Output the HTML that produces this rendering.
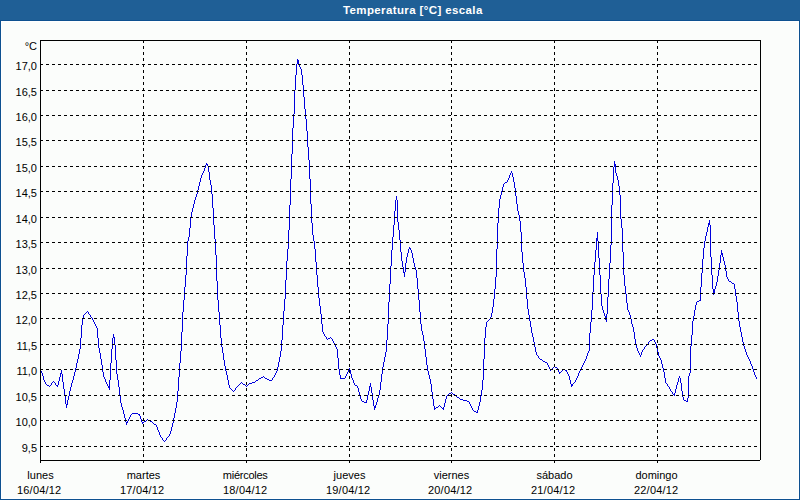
<!DOCTYPE html>
<html><head><meta charset="utf-8"><title>Temperatura [°C] escala</title>
<style>
html,body{margin:0;padding:0;}
body{width:800px;height:500px;position:relative;overflow:hidden;background:#fbfdfb;}
#tb{position:absolute;left:0;top:0;width:800px;height:20px;background:#1f5f96;border-bottom:1px solid #0d5190;}
#tb span{position:absolute;left:343px;top:0;font:bold 11.5px "Liberation Sans",sans-serif;letter-spacing:0.38px;color:#fff;line-height:20px;white-space:nowrap;}
#fr{position:absolute;left:0;top:21px;width:800px;height:479px;box-sizing:border-box;border:1px solid #0d5190;border-top:0;box-shadow:inset 0 0 0 1px #fff;}
</style></head><body>
<div id="tb"><span>Temperatura [°C] escala</span></div>
<div id="fr"></div>
<svg width="800" height="500" viewBox="0 0 800 500" style="position:absolute;left:0;top:0">
<path d="M41 371h1v2h-1zM42 373h1v3h-1zM43 376h1v4h-1zM44 380h1v2h-1zM45 382h1v2h-1zM51 383h1v2h-1zM55 383h1v2h-1zM57 385h1v2h-1zM58 381h1v4h-1zM59 377h1v4h-1zM60 373h1v4h-1zM61 370h1v4h-1zM62 374h1v8h-1zM63 382h1v7h-1zM64 389h1v7h-1zM65 396h1v8h-1zM66 404h1v4h-1zM67 400h1v5h-1zM68 396h1v4h-1zM69 391h1v5h-1zM70 387h1v4h-1zM71 383h1v4h-1zM72 380h1v3h-1zM73 376h1v4h-1zM74 372h1v4h-1zM75 368h1v4h-1zM76 363h1v5h-1zM77 359h1v4h-1zM78 354h1v5h-1zM79 349h1v5h-1zM80 338h1v11h-1zM81 325h1v13h-1zM82 318h1v7h-1zM83 315h1v3h-1zM88 312h1v2h-1zM90 315h1v2h-1zM92 318h1v2h-1zM93 320h1v2h-1zM94 322h1v2h-1zM95 324h1v2h-1zM96 326h1v2h-1zM97 328h1v10h-1zM98 338h1v10h-1zM99 348h1v5h-1zM100 353h1v6h-1zM101 359h1v6h-1zM102 365h1v7h-1zM103 372h1v5h-1zM104 377h1v2h-1zM105 379h1v3h-1zM106 382h1v2h-1zM107 384h1v2h-1zM108 386h1v2h-1zM109 380h1v10h-1zM110 363h1v17h-1zM111 349h1v14h-1zM112 338h1v11h-1zM113 334h1v4h-1zM114 337h1v8h-1zM115 345h1v15h-1zM116 360h1v14h-1zM117 374h1v6h-1zM118 380h1v7h-1zM119 387h1v9h-1zM120 396h1v7h-1zM121 403h1v4h-1zM122 407h1v3h-1zM123 410h1v4h-1zM124 414h1v4h-1zM125 418h1v4h-1zM126 422h1v3h-1zM127 421h1v2h-1zM128 419h1v2h-1zM129 417h1v2h-1zM130 415h1v2h-1zM139 414h1v2h-1zM140 416h1v3h-1zM141 419h1v3h-1zM142 422h1v2h-1zM156 425h1v2h-1zM157 427h1v3h-1zM158 430h1v2h-1zM159 432h1v3h-1zM160 435h1v2h-1zM162 438h1v2h-1zM166 438h1v2h-1zM169 434h1v2h-1zM170 431h1v3h-1zM171 427h1v4h-1zM172 423h1v4h-1zM173 418h1v5h-1zM174 413h1v5h-1zM175 408h1v5h-1zM176 402h1v6h-1zM177 391h1v11h-1zM178 377h1v14h-1zM179 363h1v14h-1zM180 351h1v12h-1zM181 332h1v19h-1zM182 312h1v20h-1zM183 300h1v12h-1zM184 287h1v13h-1zM185 275h1v12h-1zM186 256h1v19h-1zM187 241h1v15h-1zM188 237h1v4h-1zM189 228h1v9h-1zM190 218h1v10h-1zM191 212h1v6h-1zM192 208h1v4h-1zM193 204h1v4h-1zM194 200h1v4h-1zM195 197h1v3h-1zM196 194h1v3h-1zM197 190h1v4h-1zM198 186h1v4h-1zM199 182h1v4h-1zM200 178h1v4h-1zM201 175h1v3h-1zM202 173h1v2h-1zM203 171h1v2h-1zM204 168h1v3h-1zM205 165h1v3h-1zM206 163h1v2h-1zM207 164h1v2h-1zM208 166h1v6h-1zM209 172h1v8h-1zM210 180h1v5h-1zM211 185h1v9h-1zM212 194h1v14h-1zM213 208h1v17h-1zM214 225h1v14h-1zM215 239h1v16h-1zM216 255h1v26h-1zM217 281h1v19h-1zM218 300h1v12h-1zM219 312h1v13h-1zM220 325h1v13h-1zM221 338h1v9h-1zM222 347h1v6h-1zM223 353h1v7h-1zM224 360h1v6h-1zM225 366h1v5h-1zM226 371h1v4h-1zM227 375h1v5h-1zM228 380h1v5h-1zM229 385h1v3h-1zM235 388h1v2h-1zM272 378h1v2h-1zM274 375h1v2h-1zM275 373h1v2h-1zM276 371h1v2h-1zM277 367h1v4h-1zM278 362h1v5h-1zM279 357h1v5h-1zM280 351h1v6h-1zM281 340h1v11h-1zM282 325h1v15h-1zM283 311h1v14h-1zM284 299h1v12h-1zM285 280h1v19h-1zM286 261h1v19h-1zM287 249h1v12h-1zM288 230h1v19h-1zM289 205h1v25h-1zM290 179h1v26h-1zM291 154h1v25h-1zM292 128h1v26h-1zM293 114h1v14h-1zM294 90h1v24h-1zM295 75h1v15h-1zM296 64h1v11h-1zM297 59h1v5h-1zM298 60h1v5h-1zM299 65h1v2h-1zM300 67h1v2h-1zM301 69h1v6h-1zM302 75h1v10h-1zM303 85h1v12h-1zM304 97h1v12h-1zM305 109h1v10h-1zM306 119h1v12h-1zM307 131h1v16h-1zM308 147h1v13h-1zM309 160h1v19h-1zM310 179h1v25h-1zM311 204h1v19h-1zM312 223h1v12h-1zM313 235h1v6h-1zM314 241h1v8h-1zM315 249h1v13h-1zM316 262h1v13h-1zM317 275h1v12h-1zM318 287h1v11h-1zM319 298h1v8h-1zM320 306h1v8h-1zM321 314h1v10h-1zM322 324h1v8h-1zM323 332h1v2h-1zM324 334h1v2h-1zM326 337h1v2h-1zM332 339h1v2h-1zM333 341h1v2h-1zM334 343h1v2h-1zM335 345h1v2h-1zM336 347h1v2h-1zM337 349h1v9h-1zM338 358h1v11h-1zM339 369h1v6h-1zM340 375h1v4h-1zM345 376h1v2h-1zM346 374h1v2h-1zM347 372h1v2h-1zM348 370h1v2h-1zM349 368h1v2h-1zM350 370h1v4h-1zM351 374h1v4h-1zM352 378h1v2h-1zM353 380h1v3h-1zM354 383h1v2h-1zM357 386h1v2h-1zM358 388h1v4h-1zM359 392h1v4h-1zM360 396h1v3h-1zM361 399h1v2h-1zM366 400h1v3h-1zM367 395h1v5h-1zM368 391h1v4h-1zM369 386h1v5h-1zM370 383h1v4h-1zM371 387h1v6h-1zM372 393h1v7h-1zM373 400h1v6h-1zM374 406h1v4h-1zM375 405h1v3h-1zM376 402h1v3h-1zM377 398h1v4h-1zM378 395h1v3h-1zM379 390h1v5h-1zM380 382h1v8h-1zM381 374h1v8h-1zM382 367h1v7h-1zM383 362h1v5h-1zM384 357h1v5h-1zM385 352h1v5h-1zM386 340h1v12h-1zM387 324h1v16h-1zM388 302h1v22h-1zM389 284h1v18h-1zM390 266h1v18h-1zM391 250h1v16h-1zM392 237h1v13h-1zM393 225h1v12h-1zM394 211h1v14h-1zM395 200h1v11h-1zM396 196h1v4h-1zM397 200h1v22h-1zM398 222h1v8h-1zM399 230h1v10h-1zM400 240h1v12h-1zM401 252h1v9h-1zM402 261h1v6h-1zM403 267h1v6h-1zM404 272h1v5h-1zM405 263h1v9h-1zM406 257h1v6h-1zM407 253h1v4h-1zM408 249h1v4h-1zM409 247h1v2h-1zM410 248h1v2h-1zM411 250h1v3h-1zM412 253h1v5h-1zM413 258h1v5h-1zM414 263h1v4h-1zM415 267h1v3h-1zM416 270h1v8h-1zM417 278h1v11h-1zM418 289h1v11h-1zM419 300h1v12h-1zM420 312h1v12h-1zM421 324h1v7h-1zM422 331h1v4h-1zM423 335h1v6h-1zM424 341h1v8h-1zM425 349h1v8h-1zM426 357h1v8h-1zM427 365h1v6h-1zM428 371h1v4h-1zM429 375h1v4h-1zM430 379h1v5h-1zM431 384h1v8h-1zM432 392h1v7h-1zM433 399h1v7h-1zM434 406h1v4h-1zM443 407h1v3h-1zM444 403h1v4h-1zM445 399h1v4h-1zM446 396h1v3h-1zM469 402h1v2h-1zM470 404h1v2h-1zM471 406h1v2h-1zM472 408h1v2h-1zM477 410h1v3h-1zM478 406h1v4h-1zM479 402h1v4h-1zM480 396h1v6h-1zM481 390h1v6h-1zM482 380h1v10h-1zM483 359h1v21h-1zM484 338h1v21h-1zM485 327h1v11h-1zM486 322h1v5h-1zM490 317h1v2h-1zM491 313h1v4h-1zM492 307h1v6h-1zM493 299h1v8h-1zM494 289h1v10h-1zM495 277h1v12h-1zM496 249h1v28h-1zM497 223h1v26h-1zM498 208h1v15h-1zM499 199h1v9h-1zM500 195h1v4h-1zM501 191h1v4h-1zM502 187h1v4h-1zM503 184h1v3h-1zM507 180h1v2h-1zM508 178h1v2h-1zM509 175h1v3h-1zM510 173h1v2h-1zM511 171h1v2h-1zM512 173h1v4h-1zM513 177h1v5h-1zM514 182h1v6h-1zM515 188h1v8h-1zM516 196h1v8h-1zM517 204h1v7h-1zM518 211h1v4h-1zM519 215h1v6h-1zM520 221h1v11h-1zM521 232h1v20h-1zM522 252h1v11h-1zM523 263h1v9h-1zM524 272h1v6h-1zM525 278h1v9h-1zM526 287h1v12h-1zM527 299h1v10h-1zM528 309h1v6h-1zM529 315h1v6h-1zM530 321h1v6h-1zM531 327h1v6h-1zM532 333h1v4h-1zM533 337h1v5h-1zM534 342h1v5h-1zM535 347h1v5h-1zM536 352h1v3h-1zM538 356h1v2h-1zM547 363h1v2h-1zM548 365h1v2h-1zM549 367h1v2h-1zM550 369h1v2h-1zM557 368h1v2h-1zM558 370h1v2h-1zM559 372h1v2h-1zM566 370h1v2h-1zM567 372h1v2h-1zM568 374h1v2h-1zM569 376h1v4h-1zM570 380h1v4h-1zM571 384h1v3h-1zM572 384h1v2h-1zM575 380h1v2h-1zM576 378h1v2h-1zM577 376h1v2h-1zM578 373h1v3h-1zM579 371h1v2h-1zM580 369h1v2h-1zM581 367h1v2h-1zM582 365h1v2h-1zM583 363h1v2h-1zM584 361h1v2h-1zM585 359h1v2h-1zM586 356h1v3h-1zM587 353h1v3h-1zM588 351h1v2h-1zM589 333h1v18h-1zM590 322h1v11h-1zM591 310h1v12h-1zM592 292h1v18h-1zM593 275h1v17h-1zM594 262h1v13h-1zM595 250h1v12h-1zM596 238h1v12h-1zM597 232h1v9h-1zM598 241h1v17h-1zM599 258h1v17h-1zM600 275h1v19h-1zM601 294h1v12h-1zM602 306h1v4h-1zM603 310h1v3h-1zM604 313h1v3h-1zM605 316h1v4h-1zM606 314h1v8h-1zM607 297h1v17h-1zM608 279h1v18h-1zM609 263h1v16h-1zM610 245h1v18h-1zM611 205h1v40h-1zM612 183h1v22h-1zM613 167h1v16h-1zM614 161h1v6h-1zM615 164h1v9h-1zM616 173h1v3h-1zM617 176h1v4h-1zM618 180h1v6h-1zM619 186h1v9h-1zM620 195h1v24h-1zM621 219h1v9h-1zM622 228h1v24h-1zM623 252h1v23h-1zM624 275h1v11h-1zM625 286h1v8h-1zM626 294h1v9h-1zM627 303h1v7h-1zM628 310h1v2h-1zM629 312h1v3h-1zM630 315h1v4h-1zM631 319h1v5h-1zM632 324h1v3h-1zM633 327h1v5h-1zM634 332h1v7h-1zM635 339h1v5h-1zM636 344h1v4h-1zM637 348h1v3h-1zM638 351h1v2h-1zM639 353h1v2h-1zM640 355h1v2h-1zM641 352h1v3h-1zM642 350h1v2h-1zM644 347h1v2h-1zM648 342h1v2h-1zM654 340h1v2h-1zM655 342h1v2h-1zM656 344h1v4h-1zM657 348h1v4h-1zM658 352h1v4h-1zM659 356h1v2h-1zM660 358h1v2h-1zM661 360h1v4h-1zM662 364h1v4h-1zM663 368h1v4h-1zM664 372h1v6h-1zM665 378h1v5h-1zM667 384h1v2h-1zM669 387h1v2h-1zM670 389h1v2h-1zM672 392h1v2h-1zM674 393h1v3h-1zM675 389h1v4h-1zM676 385h1v4h-1zM677 382h1v3h-1zM678 378h1v4h-1zM679 376h1v2h-1zM680 378h1v5h-1zM681 383h1v8h-1zM682 391h1v6h-1zM683 397h1v3h-1zM687 398h1v4h-1zM688 376h1v22h-1zM689 373h1v3h-1zM690 346h1v27h-1zM691 335h1v11h-1zM692 321h1v14h-1zM693 316h1v5h-1zM694 310h1v6h-1zM695 305h1v5h-1zM696 302h1v3h-1zM700 287h1v14h-1zM701 273h1v14h-1zM702 259h1v14h-1zM703 248h1v11h-1zM704 241h1v7h-1zM705 236h1v5h-1zM706 232h1v4h-1zM707 227h1v5h-1zM708 223h1v4h-1zM709 220h1v5h-1zM710 225h1v32h-1zM711 257h1v18h-1zM712 275h1v14h-1zM713 289h1v6h-1zM714 289h1v4h-1zM715 286h1v3h-1zM716 282h1v4h-1zM717 276h1v6h-1zM718 270h1v6h-1zM719 263h1v7h-1zM720 255h1v8h-1zM721 250h1v5h-1zM722 253h1v4h-1zM723 257h1v4h-1zM724 261h1v4h-1zM725 265h1v6h-1zM726 271h1v6h-1zM727 277h1v2h-1zM728 279h1v2h-1zM734 284h1v5h-1zM735 289h1v7h-1zM736 296h1v6h-1zM737 302h1v10h-1zM738 312h1v9h-1zM739 321h1v6h-1zM740 327h1v5h-1zM741 332h1v5h-1zM742 337h1v5h-1zM743 342h1v4h-1zM744 346h1v3h-1zM745 349h1v3h-1zM746 352h1v3h-1zM747 355h1v2h-1zM748 357h1v2h-1zM749 359h1v2h-1zM750 361h1v3h-1zM751 364h1v2h-1zM752 366h1v3h-1zM753 369h1v3h-1zM754 372h1v3h-1zM755 375h1v2h-1zM756 377h1v2h-1zM46 384h1v1h-1zM239 384h1v1h-1zM243 384h2v1h-2zM248 384h1v1h-1zM47 385h2v1h-2zM50 385h1v1h-1zM56 385h1v1h-1zM238 385h1v1h-1zM245 385h1v1h-1zM247 385h1v1h-1zM355 385h2v1h-2zM49 386h1v1h-1zM237 386h1v1h-1zM246 386h1v1h-1zM668 386h1v1h-1zM52 382h1v1h-1zM54 382h1v1h-1zM241 382h1v1h-1zM252 382h3v1h-3zM574 382h1v1h-1zM53 381h1v1h-1zM255 381h1v1h-1zM84 314h1v1h-1zM89 314h1v1h-1zM85 313h1v1h-1zM86 312h1v1h-1zM87 311h1v1h-1zM91 317h1v1h-1zM131 414h1v1h-1zM138 414h1v1h-1zM132 413h6v1h-6zM143 422h1v1h-1zM152 422h1v1h-1zM144 421h2v1h-2zM150 421h2v1h-2zM146 420h1v1h-1zM148 420h2v1h-2zM147 419h1v1h-1zM153 423h1v1h-1zM154 424h2v1h-2zM161 437h1v1h-1zM167 437h1v1h-1zM163 440h1v1h-1zM165 440h1v1h-1zM164 441h1v1h-1zM168 436h1v1h-1zM230 388h1v1h-1zM231 389h1v1h-1zM232 390h1v1h-1zM234 390h1v1h-1zM233 391h1v1h-1zM671 391h1v1h-1zM236 387h1v1h-1zM240 383h1v1h-1zM242 383h1v1h-1zM249 383h3v1h-3zM573 383h1v1h-1zM666 383h1v1h-1zM256 380h2v1h-2zM269 380h3v1h-3zM258 379h1v1h-1zM267 379h2v1h-2zM259 378h2v1h-2zM265 378h2v1h-2zM341 378h4v1h-4zM261 377h2v1h-2zM264 377h1v1h-1zM273 377h1v1h-1zM263 376h1v1h-1zM325 336h1v1h-1zM327 339h1v1h-1zM652 339h2v1h-2zM328 338h2v1h-2zM331 338h1v1h-1zM330 337h1v1h-1zM362 401h2v1h-2zM467 401h2v1h-2zM686 401h1v1h-1zM364 402h2v1h-2zM435 408h1v1h-1zM442 408h1v1h-1zM436 407h2v1h-2zM441 407h1v1h-1zM438 406h1v1h-1zM440 406h1v1h-1zM439 405h1v1h-1zM447 395h1v1h-1zM455 395h1v1h-1zM448 394h1v1h-1zM453 394h2v1h-2zM673 394h1v1h-1zM449 393h2v1h-2zM452 393h1v1h-1zM451 392h1v1h-1zM456 396h1v1h-1zM457 397h2v1h-2zM459 398h1v1h-1zM460 399h3v1h-3zM463 400h4v1h-4zM684 400h2v1h-2zM473 410h1v1h-1zM474 411h2v1h-2zM476 412h1v1h-1zM487 321h1v1h-1zM488 320h1v1h-1zM489 319h1v1h-1zM504 183h1v1h-1zM505 182h2v1h-2zM537 355h1v1h-1zM539 358h1v1h-1zM540 359h2v1h-2zM542 360h1v1h-1zM543 361h2v1h-2zM545 362h2v1h-2zM551 369h1v1h-1zM563 369h2v1h-2zM552 368h1v1h-1zM553 367h1v1h-1zM555 367h2v1h-2zM554 366h1v1h-1zM560 372h1v1h-1zM561 371h1v1h-1zM562 370h1v1h-1zM565 370h1v1h-1zM643 349h1v1h-1zM645 346h1v1h-1zM646 345h1v1h-1zM647 344h1v1h-1zM649 341h1v1h-1zM650 340h2v1h-2zM697 301h2v1h-2zM699 300h1v1h-1zM729 281h2v1h-2zM731 282h1v1h-1zM732 283h2v1h-2z" fill="#0000dc" shape-rendering="crispEdges"/>
<g stroke="#000" stroke-width="1" stroke-dasharray="3 3" shape-rendering="crispEdges"><line x1="40" y1="64.5" x2="760" y2="64.5"/><line x1="40" y1="90.5" x2="760" y2="90.5"/><line x1="40" y1="115.5" x2="760" y2="115.5"/><line x1="40" y1="140.5" x2="760" y2="140.5"/><line x1="40" y1="166.5" x2="760" y2="166.5"/><line x1="40" y1="191.5" x2="760" y2="191.5"/><line x1="40" y1="217.5" x2="760" y2="217.5"/><line x1="40" y1="242.5" x2="760" y2="242.5"/><line x1="40" y1="268.5" x2="760" y2="268.5"/><line x1="40" y1="293.5" x2="760" y2="293.5"/><line x1="40" y1="318.5" x2="760" y2="318.5"/><line x1="40" y1="344.5" x2="760" y2="344.5"/><line x1="40" y1="369.5" x2="760" y2="369.5"/><line x1="40" y1="395.5" x2="760" y2="395.5"/><line x1="40" y1="420.5" x2="760" y2="420.5"/><line x1="40" y1="446.5" x2="760" y2="446.5"/><line x1="143.5" y1="40" x2="143.5" y2="460"/><line x1="246.5" y1="40" x2="246.5" y2="460"/><line x1="349.5" y1="40" x2="349.5" y2="460"/><line x1="451.5" y1="40" x2="451.5" y2="460"/><line x1="554.5" y1="40" x2="554.5" y2="460"/><line x1="657.5" y1="40" x2="657.5" y2="460"/></g>
<g stroke="#000" stroke-width="1" shape-rendering="crispEdges" fill="none"><line x1="40" y1="40.5" x2="761" y2="40.5"/><line x1="40.5" y1="40" x2="40.5" y2="463"/><line x1="760.5" y1="40" x2="760.5" y2="460"/><line x1="40" y1="460.5" x2="760" y2="460.5"/><line x1="143.5" y1="461" x2="143.5" y2="463"/><line x1="246.5" y1="461" x2="246.5" y2="463"/><line x1="349.5" y1="461" x2="349.5" y2="463"/><line x1="451.5" y1="461" x2="451.5" y2="463"/><line x1="554.5" y1="461" x2="554.5" y2="463"/><line x1="657.5" y1="461" x2="657.5" y2="463"/></g>
<g font-family="&quot;Liberation Sans&quot;, &quot;DejaVu Sans&quot;, sans-serif" font-size="11" fill="#000"><text x="37" y="70.0" text-anchor="end">17,0</text><text x="37" y="96.0" text-anchor="end">16,5</text><text x="37" y="121.0" text-anchor="end">16,0</text><text x="37" y="146.0" text-anchor="end">15,5</text><text x="37" y="172.0" text-anchor="end">15,0</text><text x="37" y="197.0" text-anchor="end">14,5</text><text x="37" y="223.0" text-anchor="end">14,0</text><text x="37" y="248.0" text-anchor="end">13,5</text><text x="37" y="274.0" text-anchor="end">13,0</text><text x="37" y="299.0" text-anchor="end">12,5</text><text x="37" y="324.0" text-anchor="end">12,0</text><text x="37" y="350.0" text-anchor="end">11,5</text><text x="37" y="375.0" text-anchor="end">11,0</text><text x="37" y="401.0" text-anchor="end">10,5</text><text x="37" y="426.0" text-anchor="end">10,0</text><text x="37" y="452.0" text-anchor="end">9,5</text><text x="37" y="49.6" text-anchor="end">°C</text><text x="40.5" y="479" text-anchor="middle">lunes</text><text x="39.2" y="494" text-anchor="middle" letter-spacing="0.2">16/04/12</text><text x="143.5" y="479" text-anchor="middle">martes</text><text x="142.2" y="494" text-anchor="middle" letter-spacing="0.2">17/04/12</text><text x="245.2" y="479" text-anchor="middle" letter-spacing="-0.25">miércoles</text><text x="245.2" y="494" text-anchor="middle" letter-spacing="0.2">18/04/12</text><text x="349.5" y="479" text-anchor="middle">jueves</text><text x="348.2" y="494" text-anchor="middle" letter-spacing="0.2">19/04/12</text><text x="451.5" y="479" text-anchor="middle">viernes</text><text x="450.2" y="494" text-anchor="middle" letter-spacing="0.2">20/04/12</text><text x="554.5" y="479" text-anchor="middle">sábado</text><text x="553.2" y="494" text-anchor="middle" letter-spacing="0.2">21/04/12</text><text x="656.5" y="479" text-anchor="middle">domingo</text><text x="656.2" y="494" text-anchor="middle" letter-spacing="0.2">22/04/12</text></g>
</svg>
</body></html>
